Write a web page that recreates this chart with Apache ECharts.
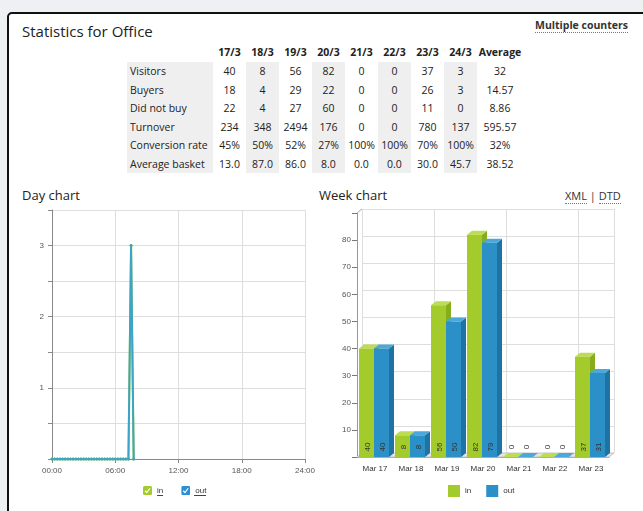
<!DOCTYPE html>
<html>
<head>
<meta charset="utf-8">
<script src="https://cdn.jsdelivr.net/npm/echarts@6/dist/echarts.min.js"></script>
<style>
  html, body { margin: 0; padding: 0; width: 643px; height: 511px; overflow: hidden; background: #eff0f3; font-family: "Open Sans", "Noto Sans", sans-serif; color: #222; }
  #panel { position: absolute; left: 7px; top: 12px; width: 650px; height: 520px; background: #fff; border: 2px solid #111; border-radius: 5px; }
  #chart { position: absolute; left: 0; top: 0; width: 643px; height: 511px; }
  .txt { position: absolute; white-space: nowrap; }
  .dot { border-bottom: 1px dotted #777; }
  #stats { position: absolute; left: 127px; top: 42px; border-collapse: collapse; font-size: 10.5px; }
  #stats td, #stats th { padding: 0; text-align: center; height: 18.5px; }
  #stats th { font-weight: bold; font-size: 10.5px; height: 20px; }
  #stats td.lbl { text-align: left; padding-left: 3px; width: 83px; }
  #stats .sh { background: #efefef; }
</style>
</head>
<body>
<div id="panel"></div>
<div class="txt" style="left:22px;top:21px;font-size:15px;">Statistics for Office</div>
<div class="txt" style="left:535px;top:18px;font-size:10.5px;font-weight:bold;color:#333;"><span class="dot">Multiple counters</span></div>
<table id="stats"></table>
<div class="txt" style="left:22px;top:186px;font-size:13px;">Day chart</div>
<div class="txt" style="left:319px;top:186px;font-size:13px;">Week chart</div>
<div class="txt" style="left:565px;top:188px;font-size:11px;color:#333;"><span class="dot">XML</span> | <span class="dot">DTD</span></div>
<div id="chart"></div>
<script>
// table
var tableCols = ['17/3', '18/3', '19/3', '20/3', '21/3', '22/3', '23/3', '24/3', 'Average'];
var rowLabels = ['Visitors', 'Buyers', 'Did not buy', 'Turnover', 'Conversion rate', 'Average basket'];
var visitors = ['40', '8', '56', '82', '0', '0', '37', '3', '32'];
var buyers = ['18', '4', '29', '22', '0', '0', '26', '3', '14.57'];
var didNotBuy = ['22', '4', '27', '60', '0', '0', '11', '0', '8.86'];
var turnover = ['234', '348', '2494', '176', '0', '0', '780', '137', '595.57'];
var conversionRate = ['45%', '50%', '52%', '27%', '100%', '100%', '70%', '100%', '32%'];
var averageBasket = ['13.0', '87.0', '86.0', '8.0', '0.0', '0.0', '30.0', '45.7', '38.52'];

// day chart (hours, 15 min steps)
var dayHours = [0, 0.25, 0.5, 0.75, 1, 1.25, 1.5, 1.75, 2, 2.25, 2.5, 2.75, 3, 3.25, 3.5, 3.75,
                4, 4.25, 4.5, 4.75, 5, 5.25, 5.5, 5.75, 6, 6.25, 6.5, 6.75, 7, 7.25, 7.5, 7.75];
var dayIn  = [0, 0, 0, 0, 0, 0, 0, 0, 0, 0, 0, 0, 0, 0, 0, 0, 0, 0, 0, 0, 0, 0, 0, 0, 0, 0, 0, 0, 0, 0, 3, 0];
var dayOut = [0, 0, 0, 0, 0, 0, 0, 0, 0, 0, 0, 0, 0, 0, 0, 0, 0, 0, 0, 0, 0, 0, 0, 0, 0, 0, 0, 0, 0, 0, 3, 0];

// week chart
var weekCats = ['Mar 17', 'Mar 18', 'Mar 19', 'Mar 20', 'Mar 21', 'Mar 22', 'Mar 23'];
var weekIn  = [40, 8, 56, 82, 0, 0, 37];
var weekOut = [40, 8, 50, 79, 0, 0, 31];

var rows = [visitors, buyers, didNotBuy, turnover, conversionRate, averageBasket];
var html = '<tr><th></th>';
tableCols.forEach(function (c, j) {
    html += '<th style="width:' + (j == 8 ? 46 : 33) + 'px">' + c + '</th>';
});
html += '</tr>';
rows.forEach(function (r, i) {
    html += '<tr><td class="lbl sh">' + rowLabels[i] + '</td>';
    r.forEach(function (v, j) {
        html += '<td' + (j % 2 == 0 ? '' : ' class="sh"') + '>' + v + '</td>';
    });
    html += '</tr>';
});
document.getElementById('stats').innerHTML = html;

var GREEN = '#a2cb2b', BLUE = '#2b90c8';
var FONT = '"Liberation Sans", Arial, sans-serif';

function pairs(xs, ys) {
    return ys.map(function (v, i) { return [xs[i], v]; });
}
function checkIcon(col) {
    var svg = '<svg xmlns="http://www.w3.org/2000/svg" width="18" height="18"><rect x="0" y="0" width="18" height="18" rx="3" fill="' + col +
        '"/><path d="M4 9.5 L7.5 13 L14 4.5" stroke="#fff" stroke-width="2.4" fill="none"/></svg>';
    return 'image://data:image/svg+xml;charset=utf-8,' + encodeURIComponent(svg);
}

// 3D looking bar
function bar3d(slot, face, side, topc) {
    return function (params, api) {
        var idx = api.value(0), val = api.value(1);
        var p0 = api.coord([idx, 0]);
        var p1 = api.coord([idx, val]);
        var band = api.size([1, 0])[0];
        var w = 15, dx = 5, dy = 4;
        var x = p0[0] - band / 2 + 2 + slot * w;
        var yb = p0[1], yt = p1[1];
        return {
            type: 'group',
            children: [
                { type: 'polygon', shape: { points: [[x + w, yt], [x + w + dx, yt - dy], [x + w + dx, yb - dy], [x + w, yb]] }, style: { fill: side } },
                { type: 'polygon', shape: { points: [[x, yt], [x + dx, yt - dy], [x + w + dx, yt - dy], [x + w, yt]] }, style: { fill: topc } },
                { type: 'rect', shape: { x: x, y: yt, width: w, height: yb - yt }, style: { fill: face } },
                { type: 'text', x: x + w / 2 + 1, y: yb - 10, rotation: Math.PI / 2,
                  style: { text: String(val), fill: '#333', font: '8px ' + FONT, align: 'center', verticalAlign: 'middle' } }
            ]
        };
    };
}

// floor + left edge of the week chart
function frame(params, api) {
    var c = params.coordSys, dx = 5, dy = 4;
    var yb = c.y + c.height;
    return {
        type: 'group',
        children: [
            { type: 'polygon', shape: { points: [[c.x, yb], [c.x + dx, yb - dy], [c.x + c.width + dx, yb - dy], [c.x + c.width, yb]] },
              style: { fill: '#e4e4e4', stroke: '#c4c4c4', lineWidth: 1 } },
            { type: 'line', shape: { x1: c.x, y1: c.y, x2: c.x + dx, y2: c.y - dy }, style: { stroke: '#aaa', lineWidth: 1 } }
        ]
    };
}

var chart = echarts.init(document.getElementById('chart'));
var option = {
    backgroundColor: 'transparent',
    animation: false,
    grid: [
        { left: 52, top: 210, width: 253, height: 249 },
        { left: 362, top: 209, width: 252, height: 244 },
        { left: 357, top: 213, width: 252, height: 244 }
    ],
    legend: [
        {
            left: 138, top: 481, itemWidth: 9, itemHeight: 9, itemGap: 18,
            textStyle: { fontSize: 8, color: '#333', fontFamily: FONT },
            data: [
                { name: 'in', icon: checkIcon(GREEN) },
                { name: 'out', icon: checkIcon('#2b8fd6') }
            ]
        },
        {
            left: 443, top: 480, itemWidth: 12, itemHeight: 12, itemGap: 15,
            textStyle: { fontSize: 8, color: '#333', fontFamily: FONT },
            data: [
                { name: 'in', icon: 'rect', itemStyle: { color: GREEN } },
                { name: 'out', icon: 'rect', itemStyle: { color: BLUE } }
            ]
        }
    ],
    // links under the day legend labels
    graphic: [
        { type: 'line', shape: { x1: 157, y1: 495.5, x2: 163, y2: 495.5 }, style: { stroke: '#444', lineWidth: 1 }, silent: true },
        { type: 'line', shape: { x1: 194, y1: 495.5, x2: 206, y2: 495.5 }, style: { stroke: '#444', lineWidth: 1 }, silent: true }
    ],
    xAxis: [
        {
            gridIndex: 0, type: 'value', min: 0, max: 24, interval: 6,
            axisLine: { lineStyle: { color: '#888' } },
            axisTick: { show: true, length: 4, lineStyle: { color: '#888' } },
            axisLabel: { fontSize: 8, color: '#555', fontFamily: FONT, margin: 8,
                formatter: function (v) { return (v < 10 ? '0' : '') + v + ':00'; } },
            splitLine: { show: true, lineStyle: { color: '#dedede' } }
        },
        {
            gridIndex: 1, type: 'category', data: weekCats,
            axisLine: { show: false }, axisTick: { show: false }, axisLabel: { show: false },
            splitLine: { show: true, lineStyle: { color: '#dedede' } }
        },
        {
            gridIndex: 2, type: 'category', data: weekCats,
            axisLine: { lineStyle: { color: '#999' } },
            axisTick: { alignWithLabel: true, length: 4, lineStyle: { color: '#777' } },
            axisLabel: { fontSize: 8, color: '#333', fontFamily: FONT, margin: 8 },
            splitLine: { show: false }
        }
    ],
    yAxis: [
        {
            gridIndex: 0, type: 'value', min: 0, max: 3.5, interval: 0.5,
            axisLine: { show: true, lineStyle: { color: '#888' } },
            axisTick: { show: true, length: 4, lineStyle: { color: '#888' } },
            axisLabel: { fontSize: 8, color: '#555', fontFamily: FONT, margin: 8,
                formatter: function (v) { return (v > 0 && v % 1 === 0) ? String(v) : ''; } },
            splitLine: { show: true, lineStyle: { color: '#dedede' } }
        },
        {
            gridIndex: 1, type: 'value', min: 0, max: 90, interval: 10,
            axisLine: { show: false }, axisTick: { show: false }, axisLabel: { show: false },
            splitLine: { show: true, lineStyle: { color: '#dedede' } }
        },
        {
            gridIndex: 2, type: 'value', min: 0, max: 90, interval: 10,
            axisLine: { show: true, lineStyle: { color: '#999' } },
            axisTick: { show: true, length: 5, lineStyle: { color: '#777' } },
            axisLabel: { fontSize: 8, color: '#555', fontFamily: FONT, margin: 6,
                formatter: function (v) { return (v > 0 && v < 90) ? String(v) : ''; } },
            splitLine: { show: false }
        }
    ],
    series: [
        {
            name: 'in', type: 'line', xAxisIndex: 0, yAxisIndex: 0,
            data: pairs(dayHours, dayIn), symbol: 'circle', symbolSize: 3, showSymbol: true,
            lineStyle: { color: GREEN, width: 2 }, itemStyle: { color: GREEN }
        },
        {
            name: 'out', type: 'line', xAxisIndex: 0, yAxisIndex: 0,
            data: pairs(dayHours, dayOut), symbol: 'circle', symbolSize: 3, showSymbol: true,
            lineStyle: { color: '#3ca4c6', width: 2 }, itemStyle: { color: '#3ca4c6' }
        },
        {
            type: 'custom', xAxisIndex: 2, yAxisIndex: 2, z: 1,
            renderItem: frame, data: [[0, 0]], silent: true
        },
        {
            name: 'in', type: 'custom', xAxisIndex: 2, yAxisIndex: 2, z: 2,
            itemStyle: { color: GREEN },
            renderItem: bar3d(0, GREEN, '#86ad1c', '#bcdc52'),
            encode: { x: 0, y: 1 },
            data: weekIn.map(function (v, i) { return [i, v]; })
        },
        {
            name: 'out', type: 'custom', xAxisIndex: 2, yAxisIndex: 2, z: 3,
            itemStyle: { color: BLUE },
            renderItem: bar3d(1, BLUE, '#1f73a3', '#4aa9da'),
            encode: { x: 0, y: 1 },
            data: weekOut.map(function (v, i) { return [i, v]; })
        }
    ]
};
chart.setOption(option);
</script>
</body>
</html>
